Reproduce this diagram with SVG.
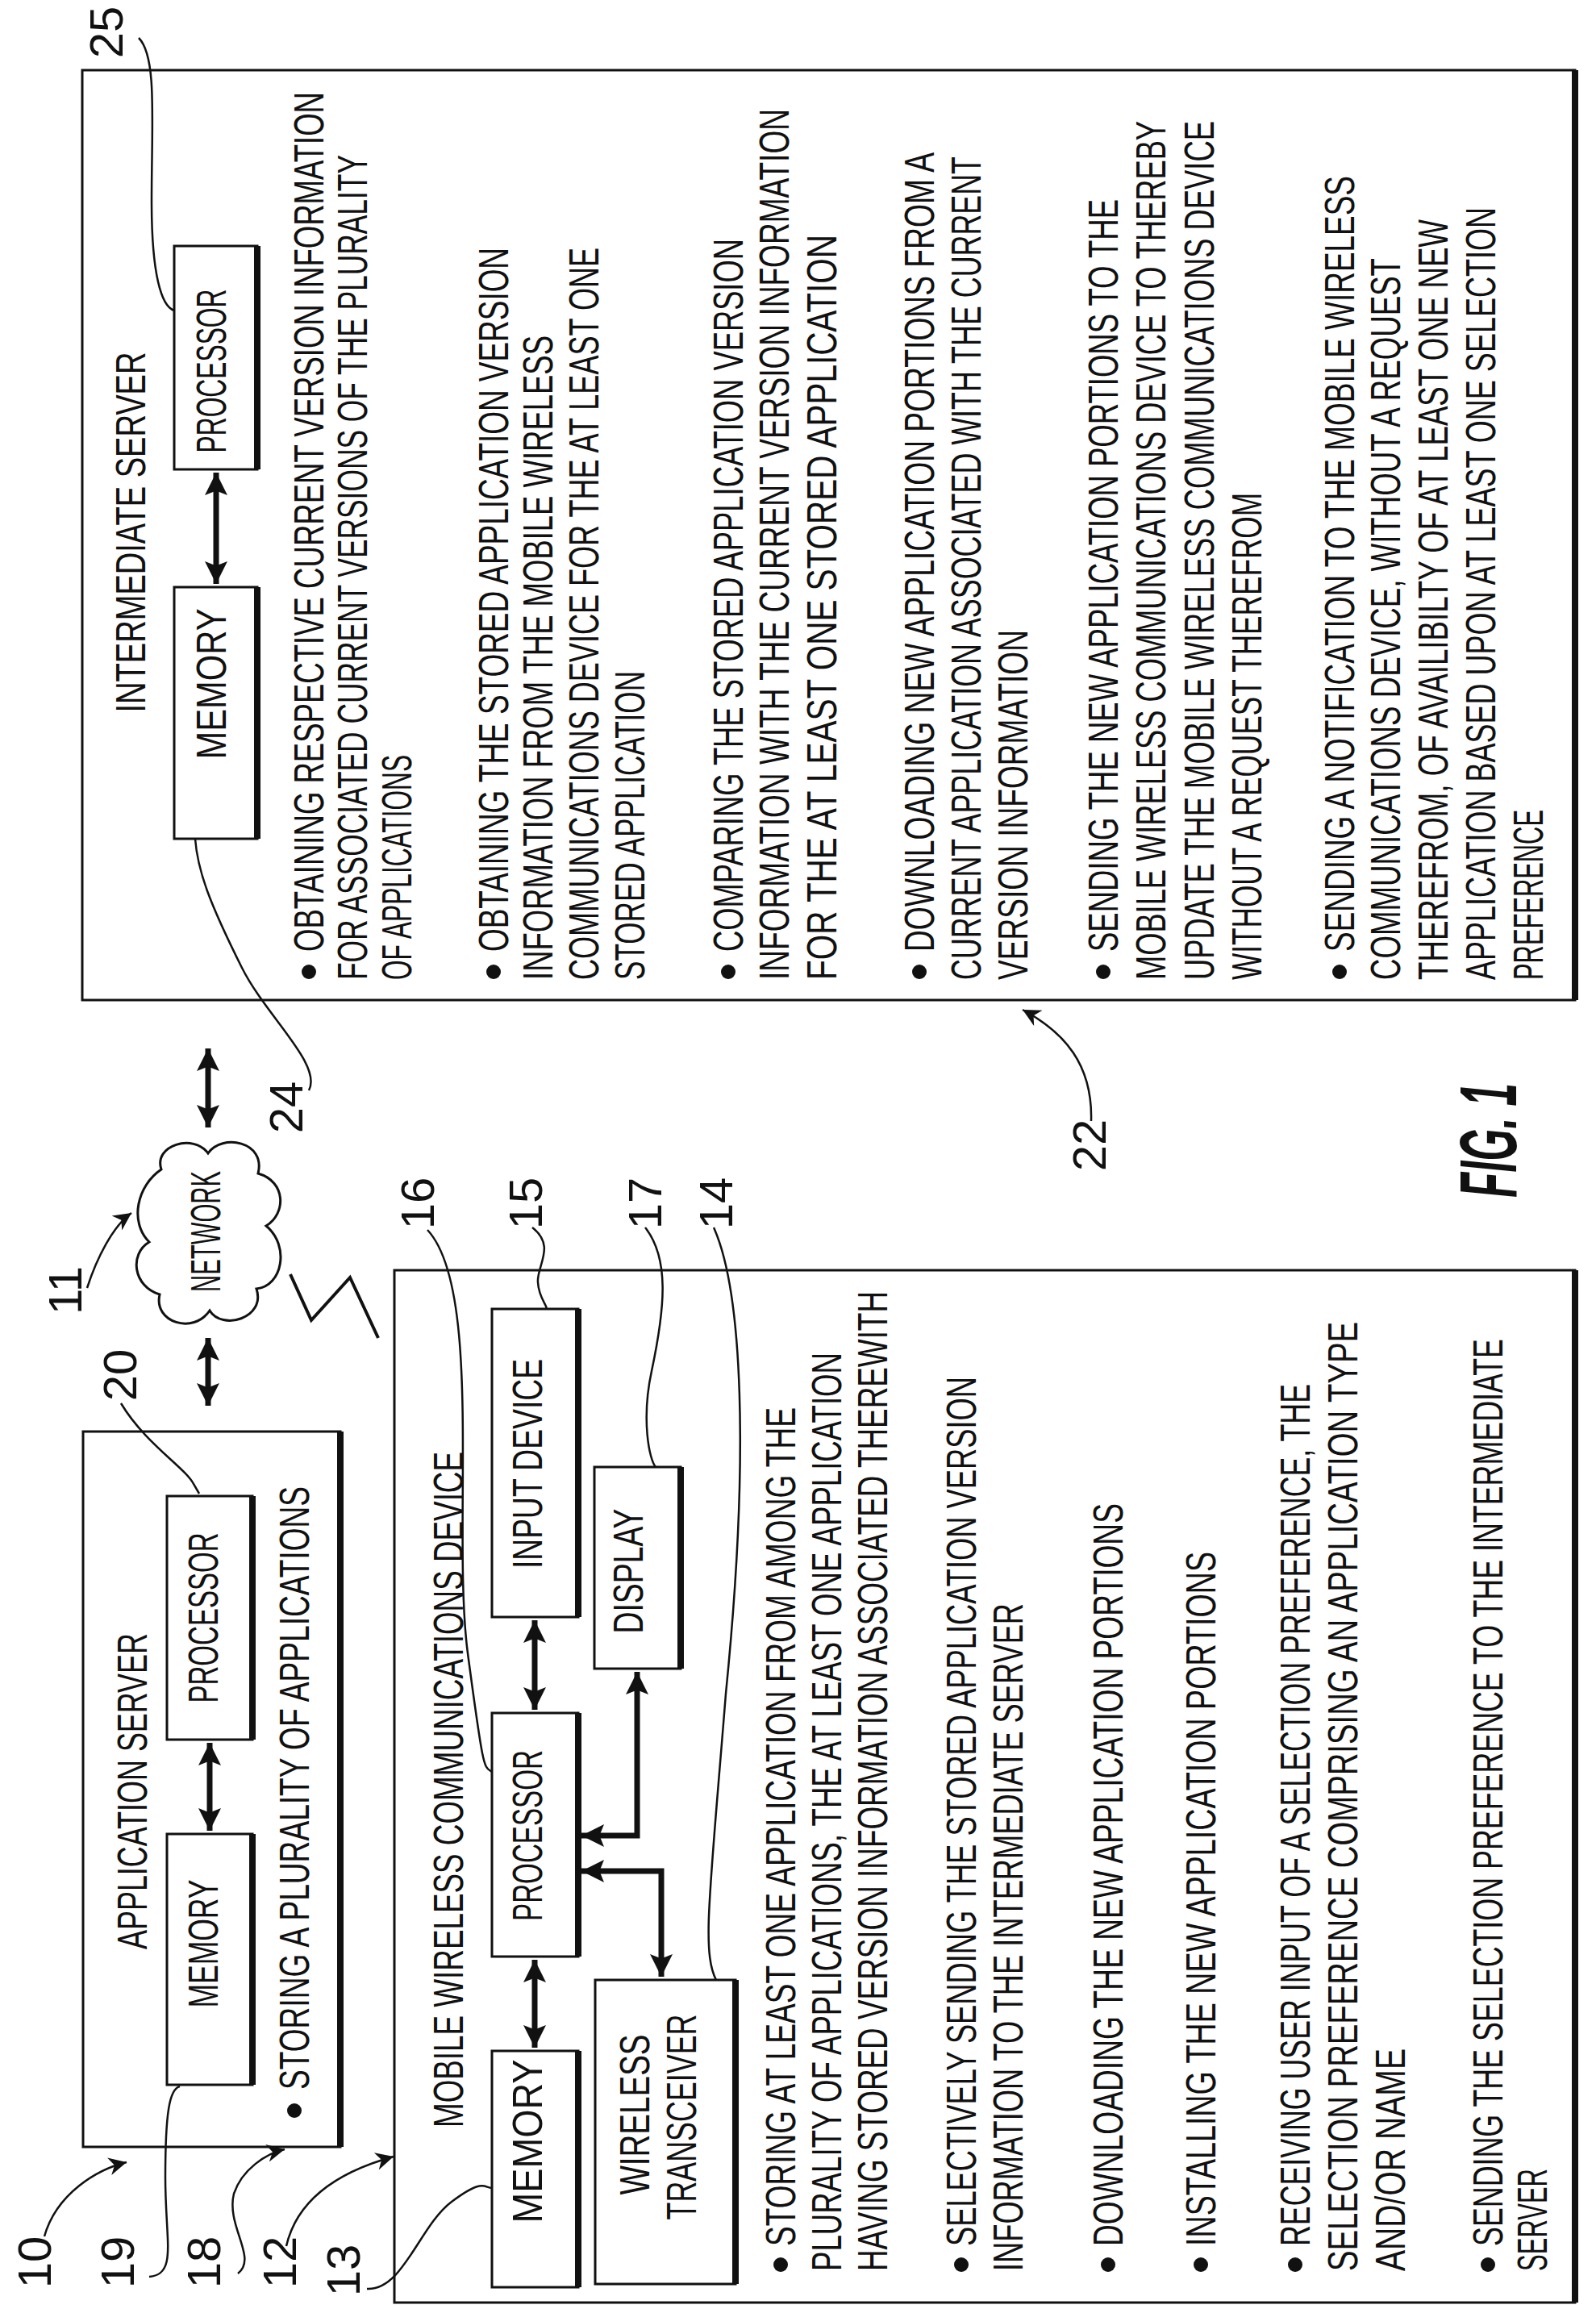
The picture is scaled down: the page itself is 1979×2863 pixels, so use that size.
<svg xmlns="http://www.w3.org/2000/svg" width="1979" height="2863" viewBox="0 0 1979 2863">
<defs>
<marker id="ah" viewBox="0 0 10 10" markerUnits="userSpaceOnUse" markerWidth="30" markerHeight="28" refX="10" refY="5" orient="auto-start-reverse"><path d="M0,0 L10,5 L0,10 L2,5 Z" fill="#111"/></marker>
<marker id="lh" viewBox="0 0 10 10" markerUnits="userSpaceOnUse" markerWidth="34" markerHeight="22" refX="10" refY="5" orient="auto"><path d="M0,0 L10,5 L0,10 L3,5 Z" fill="#111"/></marker>
<style>
text{font-family:"Liberation Sans",Arial,sans-serif;fill:#111}
.t{font-size:52px}
.m{font-size:52px;text-anchor:middle}
.n{font-size:58px;text-anchor:middle}
.box{fill:#fff;stroke:#111;stroke-width:3}
.sh{stroke:#111;stroke-width:8}
.ar{fill:none;stroke:#111;stroke-width:7}
.ld{fill:none;stroke:#111;stroke-width:2.5}
</style>
</defs>
<rect width="1979" height="2863" fill="#fff"/>

<g id="intermediate-server">
<rect class="box" x="102" y="87" width="1851" height="1153"/>
<line class="sh" x1="1953" y1="87" x2="1953" y2="1240"/>
<text class="m" x="180" y="660" transform="rotate(-90 180 660)" textLength="447" lengthAdjust="spacingAndGlyphs">INTERMEDIATE SERVER</text>
<g id="is-processor"><rect class="box" x="216" y="305" width="103" height="277"/><line class="sh" x1="319" y1="305" x2="319" y2="582"/>
<text class="m" x="280" y="460" transform="rotate(-90 280 460)" textLength="203" lengthAdjust="spacingAndGlyphs">PROCESSOR</text></g>
<g id="is-memory"><rect class="box" x="216" y="728" width="103" height="312"/><line class="sh" x1="319" y1="728" x2="319" y2="1040"/>
<text class="m" x="280" y="848" transform="rotate(-90 280 848)" textLength="187" lengthAdjust="spacingAndGlyphs">MEMORY</text></g>
<g fill="#111">
<circle cx="383" cy="1205" r="9"/><circle cx="612" cy="1205" r="9"/><circle cx="903" cy="1205" r="9"/><circle cx="1140" cy="1205" r="9"/><circle cx="1368" cy="1205" r="9"/><circle cx="1661" cy="1205" r="9"/>
</g>
<text class="t" x="401" y="1180" transform="rotate(-90 401 1180)" textLength="1066" lengthAdjust="spacingAndGlyphs">OBTAINING RESPECTIVE CURRENT VERSION INFORMATION</text>
<text class="t" x="455" y="1215" transform="rotate(-90 455 1215)" textLength="1023" lengthAdjust="spacingAndGlyphs">FOR ASSOCIATED CURRENT VERSIONS OF THE PLURALITY</text>
<text class="t" x="510" y="1215" transform="rotate(-90 510 1215)" textLength="279" lengthAdjust="spacingAndGlyphs">OF APPLICATIONS</text>
<text class="t" x="630" y="1180" transform="rotate(-90 630 1180)" textLength="873" lengthAdjust="spacingAndGlyphs">OBTAINING THE STORED APPLICATION VERSION</text>
<text class="t" x="685" y="1215" transform="rotate(-90 685 1215)" textLength="799" lengthAdjust="spacingAndGlyphs">INFORMATION FROM THE MOBILE WIRELESS</text>
<text class="t" x="742" y="1215" transform="rotate(-90 742 1215)" textLength="908" lengthAdjust="spacingAndGlyphs">COMMUNICATIONS DEVICE FOR THE AT LEAST ONE</text>
<text class="t" x="799" y="1215" transform="rotate(-90 799 1215)" textLength="383" lengthAdjust="spacingAndGlyphs">STORED APPLICATION</text>
<text class="t" x="921" y="1180" transform="rotate(-90 921 1180)" textLength="884" lengthAdjust="spacingAndGlyphs">COMPARING THE STORED APPLICATION VERSION</text>
<text class="t" x="978" y="1215" transform="rotate(-90 978 1215)" textLength="1080" lengthAdjust="spacingAndGlyphs">INFORMATION WITH THE CURRENT VERSION INFORMATION</text>
<text class="t" x="1037" y="1215" transform="rotate(-90 1037 1215)" textLength="924" lengthAdjust="spacingAndGlyphs">FOR THE AT LEAST ONE STORED APPLICATION</text>
<text class="t" x="1158" y="1180" transform="rotate(-90 1158 1180)" textLength="991" lengthAdjust="spacingAndGlyphs">DOWNLOADING NEW APPLICATION PORTIONS FROM A</text>
<text class="t" x="1216" y="1215" transform="rotate(-90 1216 1215)" textLength="1021" lengthAdjust="spacingAndGlyphs">CURRENT APPLICATION ASSOCIATED WITH THE CURRENT</text>
<text class="t" x="1274" y="1215" transform="rotate(-90 1274 1215)" textLength="434" lengthAdjust="spacingAndGlyphs">VERSION INFORMATION</text>
<text class="t" x="1386" y="1180" transform="rotate(-90 1386 1180)" textLength="933" lengthAdjust="spacingAndGlyphs">SENDING THE NEW APPLICATION PORTIONS TO THE</text>
<text class="t" x="1445" y="1215" transform="rotate(-90 1445 1215)" textLength="1065" lengthAdjust="spacingAndGlyphs">MOBILE WIRELESS COMMUNICATIONS DEVICE TO THEREBY</text>
<text class="t" x="1505" y="1215" transform="rotate(-90 1505 1215)" textLength="1065" lengthAdjust="spacingAndGlyphs">UPDATE THE MOBILE WIRELESS COMMUNICATIONS DEVICE</text>
<text class="t" x="1564" y="1215" transform="rotate(-90 1564 1215)" textLength="604" lengthAdjust="spacingAndGlyphs">WITHOUT A REQUEST THEREFROM</text>
<text class="t" x="1679" y="1180" transform="rotate(-90 1679 1180)" textLength="962" lengthAdjust="spacingAndGlyphs">SENDING A NOTIFICATION TO THE MOBILE WIRELESS</text>
<text class="t" x="1736" y="1215" transform="rotate(-90 1736 1215)" textLength="895" lengthAdjust="spacingAndGlyphs">COMMUNICATIONS DEVICE, WITHOUT A REQUEST</text>
<text class="t" x="1795" y="1215" transform="rotate(-90 1795 1215)" textLength="943" lengthAdjust="spacingAndGlyphs">THEREFROM, OF AVAILIBILTY OF AT LEAST ONE NEW</text>
<text class="t" x="1854" y="1215" transform="rotate(-90 1854 1215)" textLength="958" lengthAdjust="spacingAndGlyphs">APPLICATION BASED UPON AT LEAST ONE SELECTION</text>
<text class="t" x="1913" y="1215" transform="rotate(-90 1913 1215)" textLength="211" lengthAdjust="spacingAndGlyphs">PREFERENCE</text>
</g>

<g id="application-server">
<rect class="box" x="103" y="1775" width="319" height="887"/>
<line class="sh" x1="422" y1="1775" x2="422" y2="2662"/>
<text class="m" x="182" y="2221" transform="rotate(-90 182 2221)" textLength="392" lengthAdjust="spacingAndGlyphs">APPLICATION SERVER</text>
<g id="as-processor"><rect class="box" x="207" y="1855" width="106" height="302"/><line class="sh" x1="313" y1="1855" x2="313" y2="2157"/>
<text class="m" x="270" y="2006" transform="rotate(-90 270 2006)" textLength="211" lengthAdjust="spacingAndGlyphs">PROCESSOR</text></g>
<g id="as-memory"><rect class="box" x="207" y="2274" width="106" height="311"/><line class="sh" x1="313" y1="2274" x2="313" y2="2585"/>
<text class="m" x="270" y="2410" transform="rotate(-90 270 2410)" textLength="159" lengthAdjust="spacingAndGlyphs">MEMORY</text></g>
<circle cx="365" cy="2617" r="9" fill="#111"/>
<text class="t" x="383" y="2591" transform="rotate(-90 383 2591)" textLength="748" lengthAdjust="spacingAndGlyphs">STORING A PLURALITY OF APPLICATIONS</text>
</g>

<g id="network">
<path d="M200,1450 C190,1420 240,1405 258,1430 C275,1405 330,1415 320,1455 C355,1465 355,1505 330,1520 C360,1545 350,1595 318,1598 C330,1635 275,1650 260,1625 C240,1655 190,1640 198,1605 C165,1595 160,1555 185,1540 C160,1515 170,1470 200,1450 Z" fill="#fff" stroke="#111" stroke-width="3"/>
<text class="m" x="273" y="1527" transform="rotate(-90 273 1527)" textLength="150" lengthAdjust="spacingAndGlyphs">NETWORK</text>
</g>

<g id="mobile-device">
<rect class="box" x="489" y="1575" width="1464" height="1280"/>
<line class="sh" x1="1953" y1="1575" x2="1953" y2="2855"/>
<text class="m" x="574" y="2219" transform="rotate(-90 574 2219)" textLength="838" lengthAdjust="spacingAndGlyphs">MOBILE WIRELESS COMMUNICATIONS DEVICE</text>
<g id="md-input"><rect class="box" x="610" y="1623" width="107" height="382"/><line class="sh" x1="717" y1="1623" x2="717" y2="2005"/>
<text class="m" x="672" y="1815" transform="rotate(-90 672 1815)" textLength="260" lengthAdjust="spacingAndGlyphs">INPUT DEVICE</text></g>
<g id="md-processor"><rect class="box" x="610" y="2124" width="107" height="302"/><line class="sh" x1="717" y1="2124" x2="717" y2="2426"/>
<text class="m" x="672" y="2276" transform="rotate(-90 672 2276)" textLength="212" lengthAdjust="spacingAndGlyphs">PROCESSOR</text></g>
<g id="md-memory"><rect class="box" x="610" y="2543" width="107" height="293"/><line class="sh" x1="717" y1="2543" x2="717" y2="2836"/>
<text class="m" x="672" y="2655" transform="rotate(-90 672 2655)" textLength="203" lengthAdjust="spacingAndGlyphs">MEMORY</text></g>
<g id="md-display"><rect class="box" x="737" y="1819" width="107" height="250"/><line class="sh" x1="844" y1="1819" x2="844" y2="2069"/>
<text class="m" x="797" y="1948" transform="rotate(-90 797 1948)" textLength="155" lengthAdjust="spacingAndGlyphs">DISPLAY</text></g>
<g id="md-transceiver"><rect class="box" x="738" y="2455" width="174" height="377"/><line class="sh" x1="912" y1="2455" x2="912" y2="2832"/>
<text class="m" x="805" y="2622" transform="rotate(-90 805 2622)" textLength="199" lengthAdjust="spacingAndGlyphs">WIRELESS</text>
<text class="m" x="863" y="2625" transform="rotate(-90 863 2625)" textLength="255" lengthAdjust="spacingAndGlyphs">TRANSCEIVER</text></g>
<g fill="#111">
<circle cx="968" cy="2808" r="9"/><circle cx="1192" cy="2808" r="9"/><circle cx="1374" cy="2808" r="9"/><circle cx="1489" cy="2808" r="9"/><circle cx="1606" cy="2808" r="9"/><circle cx="1845" cy="2808" r="9"/>
</g>
<text class="t" x="986" y="2785" transform="rotate(-90 986 2785)" textLength="1040" lengthAdjust="spacingAndGlyphs">STORING AT LEAST ONE APPLICATION FROM AMONG THE</text>
<text class="t" x="1043" y="2816" transform="rotate(-90 1043 2816)" textLength="1139" lengthAdjust="spacingAndGlyphs">PLURALITY OF APPLICATIONS, THE AT LEAST ONE APPLICATION</text>
<text class="t" x="1100" y="2816" transform="rotate(-90 1100 2816)" textLength="1215" lengthAdjust="spacingAndGlyphs">HAVING STORED VERSION INFORMATION ASSOCIATED THEREWITH</text>
<text class="t" x="1210" y="2785" transform="rotate(-90 1210 2785)" textLength="1078" lengthAdjust="spacingAndGlyphs">SELECTIVELY SENDING THE STORED APPLICATION VERSION</text>
<text class="t" x="1268" y="2816" transform="rotate(-90 1268 2816)" textLength="828" lengthAdjust="spacingAndGlyphs">INFORMATION TO THE INTERMEDIATE SERVER</text>
<text class="t" x="1392" y="2785" transform="rotate(-90 1392 2785)" textLength="921" lengthAdjust="spacingAndGlyphs">DOWNLOADING THE NEW APPLICATION PORTIONS</text>
<text class="t" x="1507" y="2785" transform="rotate(-90 1507 2785)" textLength="861" lengthAdjust="spacingAndGlyphs">INSTALLING THE NEW APPLICATION PORTIONS</text>
<text class="t" x="1624" y="2785" transform="rotate(-90 1624 2785)" textLength="1069" lengthAdjust="spacingAndGlyphs">RECEIVING USER INPUT OF A SELECTION PREFERENCE, THE</text>
<text class="t" x="1683" y="2816" transform="rotate(-90 1683 2816)" textLength="1177" lengthAdjust="spacingAndGlyphs">SELECTION PREFERENCE COMPRISING AN APPLICATION TYPE</text>
<text class="t" x="1742" y="2816" transform="rotate(-90 1742 2816)" textLength="276" lengthAdjust="spacingAndGlyphs">AND/OR NAME</text>
<text class="t" x="1863" y="2785" transform="rotate(-90 1863 2785)" textLength="1125" lengthAdjust="spacingAndGlyphs">SENDING THE SELECTION PREFERENCE TO THE INTERMEDIATE</text>
<text class="t" x="1918" y="2816" transform="rotate(-90 1918 2816)" textLength="127" lengthAdjust="spacingAndGlyphs">SERVER</text>
</g>

<g id="connectors">
<path class="ar" d="M260,2161 V2270" marker-start="url(#ah)" marker-end="url(#ah)"/>
<path class="ar" d="M268,586 V724" marker-start="url(#ah)" marker-end="url(#ah)"/>
<path class="ar" d="M258,1659 V1743" marker-start="url(#ah)" marker-end="url(#ah)"/>
<path class="ar" d="M258,1300 V1398" marker-start="url(#ah)" marker-end="url(#ah)"/>
<path class="ar" d="M663,2009 V2120" marker-start="url(#ah)" marker-end="url(#ah)"/>
<path class="ar" d="M663,2430 V2539" marker-start="url(#ah)" marker-end="url(#ah)"/>
<path class="ar" d="M721,2276 H790 V2073" marker-start="url(#ah)" marker-end="url(#ah)"/>
<path class="ar" d="M721,2320 H820 V2451" marker-start="url(#ah)" marker-end="url(#ah)"/>
<path fill="none" stroke="#111" stroke-width="4" d="M360,1580 L386,1637 L434,1584 L469,1659"/>
<path class="ld" d="M55,2773 C70,2720 120,2690 157,2681" marker-end="url(#lh)"/>
<path class="ld" d="M185,2823 C220,2820 205,2780 205,2700 C205,2620 210,2590 223,2587"/>
<path class="ld" d="M295,2819 C320,2800 280,2760 290,2720 C300,2690 330,2670 353,2665" marker-end="url(#lh)"/>
<path class="ld" d="M355,2785 C370,2720 430,2690 488,2674" marker-end="url(#lh)"/>
<path class="ld" d="M455,2838 C500,2840 520,2760 560,2730 S600,2713 610,2713"/>
<path class="ld" d="M530,1525 C600,1600 560,1900 580,2050 S600,2190 610,2197"/>
<path class="ld" d="M660,1522 C690,1545 665,1570 667,1590 C668,1610 680,1620 677,1623"/>
<path class="ld" d="M800,1522 C830,1560 825,1620 808,1700 C795,1760 805,1810 813,1819"/>
<path class="ld" d="M885,1522 C920,1600 930,1800 900,2100 C880,2350 870,2420 888,2455"/>
<path class="ld" d="M150,1740 C180,1790 230,1820 240,1840 L247,1852"/>
<path class="ld" d="M108,1597 C120,1560 140,1520 163,1504" marker-end="url(#lh)"/>
<path class="ld" d="M172,47 C195,70 188,150 188,250 C188,340 200,380 216,385"/>
<path class="ld" d="M383,1352 C400,1320 330,1260 300,1200 C260,1120 245,1080 242,1040"/>
<path class="ld" d="M1353,1390 C1355,1320 1320,1280 1268,1252" marker-end="url(#lh)"/>
</g>

<g id="labels">
<text class="n" x="63" y="2805" transform="rotate(-90 63 2805)">10</text>
<text class="n" x="166" y="2805" transform="rotate(-90 166 2805)">19</text>
<text class="n" x="273" y="2805" transform="rotate(-90 273 2805)">18</text>
<text class="n" x="367" y="2805" transform="rotate(-90 367 2805)">12</text>
<text class="n" x="446" y="2815" transform="rotate(-90 446 2815)">13</text>
<text class="n" x="169" y="1705" transform="rotate(-90 169 1705)">20</text>
<text class="n" x="101" y="1600" transform="rotate(-90 101 1600)">11</text>
<text class="n" x="152" y="40" transform="rotate(-90 152 40)">25</text>
<text class="n" x="375" y="1373" transform="rotate(-90 375 1373)">24</text>
<text class="n" x="538" y="1492" transform="rotate(-90 538 1492)">16</text>
<text class="n" x="672" y="1492" transform="rotate(-90 672 1492)">15</text>
<text class="n" x="820" y="1492" transform="rotate(-90 820 1492)">17</text>
<text class="n" x="908" y="1492" transform="rotate(-90 908 1492)">14</text>
<text class="n" x="1371" y="1420" transform="rotate(-90 1371 1420)">22</text>
<text x="1880" y="1414" transform="rotate(-90 1880 1414)" style="font-size:100px;font-style:italic;font-weight:bold;text-anchor:middle" textLength="142" lengthAdjust="spacingAndGlyphs">FIG. 1</text>
</g>
</svg>
